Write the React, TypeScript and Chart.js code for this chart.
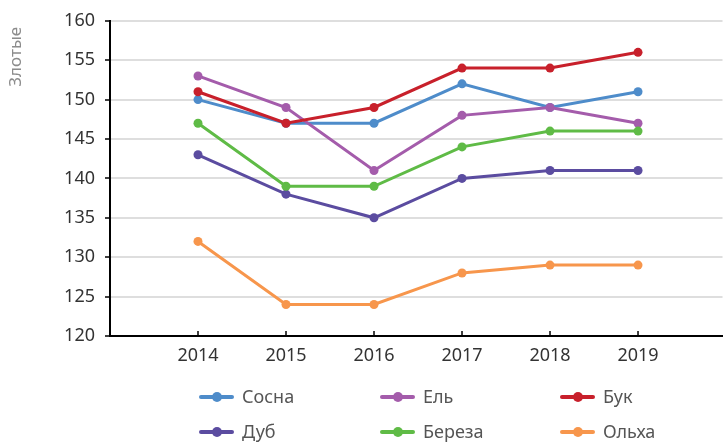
import React, { useEffect, useRef } from "react";
import { Chart, registerables } from "chart.js";

Chart.register(...registerables);

const years = [2014, 2015, 2016, 2017, 2018, 2019];
const seriesNames = ["Сосна", "Ель", "Бук", "Дуб", "Береза", "Ольха"];
const sosna = [150, 147, 147, 152, 149, 151];
const el = [153, 149, 141, 148, 149, 147];
const buk = [151, 147, 149, 154, 154, 156];
const dub = [143, 138, 135, 140, 141, 141];
const bereza = [147, 139, 139, 144, 146, 146];
const olkha = [132, 124, 124, 128, 129, 129];
const seriesValues = [sosna, el, buk, dub, bereza, olkha];
const colors = ["#4e8cca", "#a45cab", "#c8202b", "#5b4ca0", "#5fbb46", "#f7964c"];
const yTitle = "Злотые";

const FONT = "'Noto Sans', sans-serif";

const innerTicks = {
  id: "innerTicks",
  afterDraw(chart: any) {
    const sx = chart.scales.x;
    const ctx = chart.ctx;
    const bottom = chart.chartArea.bottom;
    ctx.save();
    ctx.strokeStyle = "#000";
    ctx.lineWidth = 1.5;
    sx.ticks.forEach((t: any) => {
      const px = sx.getPixelForValue(t.value);
      ctx.beginPath();
      ctx.moveTo(px, bottom);
      ctx.lineTo(px, bottom - 5);
      ctx.stroke();
    });
    ctx.restore();
  },
};

const yAxisTitle = {
  id: "yAxisTitle",
  afterDraw(chart: any) {
    const ctx = chart.ctx;
    const top = chart.chartArea.top;
    ctx.save();
    ctx.font = `17px ${FONT}`;
    ctx.fillStyle = "#8c8c8c";
    ctx.textAlign = "right";
    ctx.textBaseline = "middle";
    ctx.translate(16, top + 6);
    ctx.rotate(-Math.PI / 2);
    ctx.fillText(yTitle, 0, 0);
    ctx.restore();
  },
};

const gridLegend = {
  id: "gridLegend",
  afterDraw(chart: any) {
    const ctx = chart.ctx;
    const colX = [201, 382, 562];
    const rowY = [397, 432];
    ctx.save();
    ctx.font = `18px ${FONT}`;
    ctx.textBaseline = "middle";
    ctx.textAlign = "left";
    chart.data.datasets.forEach((ds: any, i: number) => {
      const x = colX[i % 3];
      const y = rowY[Math.floor(i / 3)];
      ctx.strokeStyle = ds.borderColor;
      ctx.lineWidth = 4;
      ctx.lineCap = "round";
      ctx.beginPath();
      ctx.moveTo(x, y);
      ctx.lineTo(x + 31, y);
      ctx.stroke();
      ctx.fillStyle = ds.borderColor;
      ctx.beginPath();
      ctx.arc(x + 16, y, 5, 0, Math.PI * 2);
      ctx.fill();
      ctx.fillStyle = "#555555";
      ctx.fillText(ds.label, x + 41, y + 1);
    });
    ctx.restore();
  },
};

export default function App() {
  const ref = useRef<HTMLCanvasElement | null>(null);

  useEffect(() => {
    document.body.style.margin = "0";
    const datasets = seriesNames.map((name, i) => ({
      label: name,
      data: years.map((yr, j) => ({ x: yr, y: seriesValues[i][j] })),
      borderColor: colors[i],
      backgroundColor: colors[i],
      pointBackgroundColor: colors[i],
      pointBorderWidth: 0,
      pointRadius: 4.5,
      borderWidth: 3,
      tension: 0,
      order: -i,
    }));
    const chart = new Chart(ref.current as HTMLCanvasElement, {
      type: "line",
      data: { datasets },
      options: {
        animation: false,
        responsive: false,
        layout: { padding: { left: 0, top: 20, right: 0, bottom: 70 } },
        plugins: {
          legend: { display: false },
          tooltip: { enabled: false },
        },
        scales: {
          x: {
            type: "linear",
            min: 2013,
            max: 2019.96,
            afterBuildTicks: (scale: any) => {
              scale.ticks = years.map((v) => ({ value: v }));
            },
            afterFit: (scale: any) => {
              scale.height = 38;
            },
            grid: { drawOnChartArea: false, drawTicks: false },
            border: { display: true, color: "#000", width: 2 },
            ticks: {
              padding: 9,
              color: "#333333",
              font: { family: FONT, size: 18 },
              maxRotation: 0,
              callback: (v: any) => String(v),
            },
          },
          y: {
            min: 120,
            max: 160,
            afterFit: (scale: any) => {
              scale.width = 110;
            },
            grid: {
              color: "#dedede",
              lineWidth: 2,
              tickColor: "#000",
              tickLength: 5,
              tickWidth: 1.5,
            },
            border: { display: true, color: "#000", width: 2 },
            ticks: {
              stepSize: 5,
              padding: 10,
              color: "#333333",
              font: { family: FONT, size: 18 },
            },
          },
        },
      },
      plugins: [innerTicks, yAxisTitle, gridLegend],
    } as any);
    return () => chart.destroy();
  }, []);

  return (
    <div style={{ width: 727, height: 444 }}>
      <canvas ref={ref} width={727} height={444} />
    </div>
  );
}
